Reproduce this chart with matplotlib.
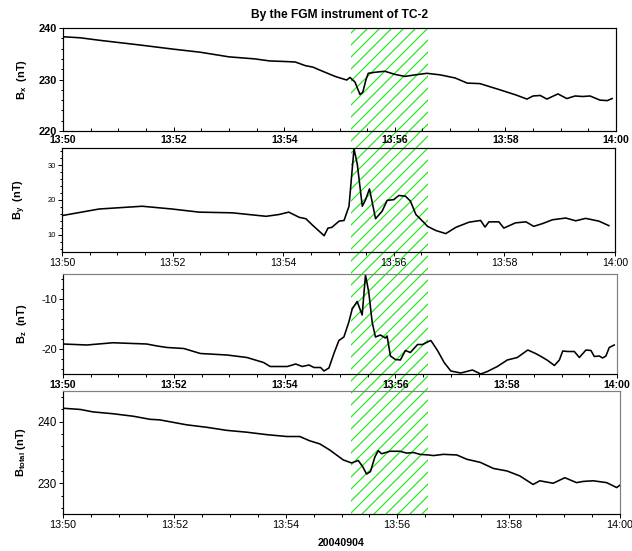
import matplotlib
matplotlib.use('Agg')
import matplotlib.pyplot as plt
from matplotlib.patches import Rectangle
from matplotlib.ticker import MultipleLocator
from matplotlib.transforms import blended_transform_factory

plt.rcParams['font.family'] = 'Liberation Sans'
plt.rcParams['mathtext.fontset'] = 'custom'
plt.rcParams['mathtext.rm'] = 'Liberation Sans'
plt.rcParams['mathtext.bf'] = 'Liberation Sans:bold'
plt.rcParams['hatch.linewidth'] = 1.2

# minutes after 13:50 UT, 2004-09-04
tx = [0.00, 0.31, 0.67, 0.99, 1.39, 1.99, 2.48, 3.00, 3.47, 3.74, 4.00, 4.20, 4.38, 4.52,
      4.65, 4.92, 5.13, 5.19, 5.28, 5.37, 5.42, 5.48, 5.52, 5.64, 5.82, 6.00, 6.18, 6.37,
      6.58, 6.82, 7.09, 7.31, 7.54, 7.90, 8.19, 8.39, 8.50, 8.63, 8.75, 8.95, 9.11, 9.26,
      9.40, 9.53, 9.71, 9.84, 9.93]
bx = [238.3, 238.1, 237.6, 237.2, 236.7, 235.9, 235.3, 234.4, 234.0, 233.6, 233.5, 233.4,
      232.7, 232.4, 231.8, 230.6, 229.9, 230.4, 229.5, 227.1, 227.5, 230.0, 231.2, 231.4,
      231.6, 231.0, 230.6, 230.9, 231.2, 230.9, 230.3, 229.3, 229.2, 228.0, 227.0, 226.2,
      226.8, 226.9, 226.2, 227.2, 226.3, 226.8, 226.7, 226.8, 226.0, 225.9, 226.3]

ty = [0.00, 0.67, 1.45, 1.99, 2.48, 3.08, 3.69, 3.92, 4.10, 4.29, 4.41, 4.52, 4.74, 4.81,
      4.88, 5.01, 5.10, 5.19, 5.28, 5.34, 5.43, 5.49, 5.56, 5.67, 5.79, 5.88, 6.00, 6.09,
      6.21, 6.30, 6.40, 6.52, 6.61, 6.76, 6.94, 7.12, 7.36, 7.57, 7.65, 7.72, 7.90, 7.99,
      8.20, 8.39, 8.53, 8.69, 8.87, 9.11, 9.29, 9.47, 9.71, 9.89]
by = [15.5, 17.4, 18.2, 17.4, 16.5, 16.3, 15.3, 15.8, 16.5, 15.0, 14.6, 12.9, 9.7, 11.9,
      12.1, 13.9, 14.1, 18.2, 34.8, 30.3, 18.2, 20.1, 23.2, 14.6, 16.8, 19.9, 20.1, 21.3,
      21.1, 19.7, 15.8, 13.9, 12.4, 11.2, 10.3, 12.1, 13.6, 14.1, 12.2, 13.7, 13.7, 11.9,
      13.4, 13.7, 12.4, 13.2, 14.3, 14.8, 14.0, 14.7, 13.9, 12.6]

tz = [0.00, 0.43, 0.90, 1.51, 1.70, 1.88, 2.18, 2.48, 2.96, 3.32, 3.62, 3.74, 4.05, 4.20,
      4.32, 4.44, 4.53, 4.65, 4.71, 4.80, 4.89, 4.98, 5.07, 5.16, 5.22, 5.31, 5.40, 5.46,
      5.52, 5.58, 5.64, 5.73, 5.82, 5.85, 5.91, 6.00, 6.09, 6.18, 6.27, 6.40, 6.49, 6.58,
      6.64, 6.76, 6.88, 7.00, 7.18, 7.39, 7.54, 7.66, 7.84, 8.02, 8.20, 8.39, 8.53, 8.63,
      8.75, 8.87, 8.96, 9.02, 9.11, 9.23, 9.32, 9.44, 9.53, 9.59, 9.68, 9.74, 9.80, 9.86,
      9.95]
bz = [-19.0, -19.2, -18.75, -19.0, -19.4, -19.7, -19.9, -20.9, -21.2, -21.7, -22.7, -23.5,
      -23.5, -23.0, -23.5, -23.2, -23.7, -23.7, -24.4, -23.8, -20.9, -18.3, -17.6, -14.6,
      -12.0, -10.5, -13.2, -5.2, -8.7, -14.6, -17.6, -17.2, -17.8, -17.4, -21.4, -22.1,
      -22.2, -20.3, -20.7, -19.1, -19.1, -18.6, -18.3, -20.3, -22.7, -24.4, -24.8, -24.2,
      -25.0, -24.5, -23.5, -22.2, -21.7, -20.2, -20.9, -21.5, -22.3, -23.3, -22.2, -20.4,
      -20.5, -20.5, -21.7, -20.2, -20.3, -21.5, -21.4, -21.8, -21.4, -19.7, -19.2]

tt = [0.00, 0.31, 0.54, 0.90, 1.26, 1.56, 1.74, 1.98, 2.22, 2.58, 2.94, 3.30, 3.66, 4.02,
      4.25, 4.43, 4.61, 4.79, 5.03, 5.18, 5.30, 5.38, 5.45, 5.52, 5.60, 5.66, 5.72, 5.87,
      6.05, 6.17, 6.29, 6.41, 6.56, 6.65, 6.83, 7.07, 7.25, 7.49, 7.73, 7.97, 8.20, 8.44,
      8.56, 8.80, 9.01, 9.22, 9.34, 9.52, 9.76, 9.94, 10.0]
btot = [242.2, 242.0, 241.6, 241.3, 240.9, 240.4, 240.3, 239.9, 239.5, 239.1, 238.6, 238.3,
        237.9, 237.6, 237.6, 236.9, 236.4, 235.4, 233.8, 233.3, 233.7, 232.7, 231.5, 231.9,
        234.3, 235.3, 234.8, 235.2, 235.2, 234.9, 235.0, 234.7, 234.6, 234.5, 234.7, 234.6,
        233.9, 233.4, 232.4, 232.0, 231.2, 229.8, 230.4, 230.0, 230.9, 230.1, 230.3, 230.4,
        230.1, 229.3, 229.7]

xticks = [0, 2, 4, 6, 8, 10]
xticklabels = ['13:50', '13:52', '13:54', '13:56', '13:58', '14:00']
event = (5.2, 6.6)

W, H = 632, 551
fig = plt.figure(figsize=(W / 72, H / 72), dpi=72)


def panel(l, t, r, b):
    return fig.add_axes([l / W, 1 - b / H, (r - l) / W, (b - t) / H])


ax1 = panel(63, 28, 616, 131)
ax2 = panel(62, 148, 615, 252)
ax3 = panel(63, 274, 617, 374)
ax4 = panel(63, 391, 620, 514)

panels = [
    # axes, t, values, ylim, yticks, ylabel, y font (size, weight), x font (size, weight), x tick dir
    (ax1, tx, bx, (220, 240), [220, 230, 240], r'$\mathbf{B_{x}}$  (nT)', (11, 'bold'), (10.5, 'bold'), 'in'),
    (ax2, ty, by, (5, 35), [10, 20, 30], r'$\mathbf{B_{y}}$  (nT)', (7.5, 'normal'), (10.5, 'normal'), 'out'),
    (ax3, tz, bz, (-25, -5), [-20, -10], r'$\mathbf{B_{z}}$  (nT)', (11, 'normal'), (10.5, 'bold'), 'out'),
    (ax4, tt, btot, (225, 245), [230, 240], r'$\mathbf{B_{total}}$ (nT)', (11.5, 'normal'), (10.8, 'normal'), 'out'),
]

for ax, t, v, ylim, yt, ylab, yf, xf, xdir in panels:
    ax.set_facecolor('none')
    ax.plot(t, v, color='black', lw=1.6, solid_joinstyle='round')
    ax.set_xlim(0, 10)
    ax.set_ylim(*ylim)
    ax.set_xticks(xticks)
    ax.set_xticklabels(xticklabels, fontsize=xf[0], fontweight=xf[1])
    ax.xaxis.set_minor_locator(MultipleLocator(0.5))
    ax.set_yticks(yt)
    ax.set_yticklabels([str(y) for y in yt], fontsize=yf[0], fontweight=yf[1])
    ax.yaxis.set_minor_locator(MultipleLocator(2))
    ax.tick_params(axis='x', which='major', direction=xdir, length=4, width=1,
                   pad=4 if xdir == 'in' else 2)
    ax.tick_params(axis='x', which='minor', direction=xdir, length=3, width=1)
    ax.tick_params(axis='y', which='major', direction='out', length=4, width=1, pad=2)
    ax.tick_params(axis='y', which='minor', direction='out', length=2.5, width=1)
    ax.set_ylabel(ylab, fontsize=11, fontweight='bold')
    ax.yaxis.set_label_coords(-0.062, 0.5)
    for s in ax.spines.values():
        s.set_linewidth(1.2)

for ax in (ax3, ax4):
    ax.spines['top'].set_color('#808080')
    ax.spines['right'].set_color('#808080')

# hatched interval spanning all four panels
tr = blended_transform_factory(ax1.transData, fig.transFigure)
fig.patches.append(Rectangle((event[0], 1 - 514 / H), event[1] - event[0], (514 - 28) / H,
                             transform=tr, facecolor='none', edgecolor='#22e622',
                             hatch='//', lw=0, zorder=-1))

fig.suptitle('By the FGM instrument of TC-2', x=0.538, y=1 - 15 / H, va='center',
             fontsize=12, fontweight='bold')
fig.text(0.540, 1 - 543 / H, '20040904', ha='center', va='center', fontsize=10.5,
         fontweight='bold')

fig.savefig('out.png', dpi=72)
